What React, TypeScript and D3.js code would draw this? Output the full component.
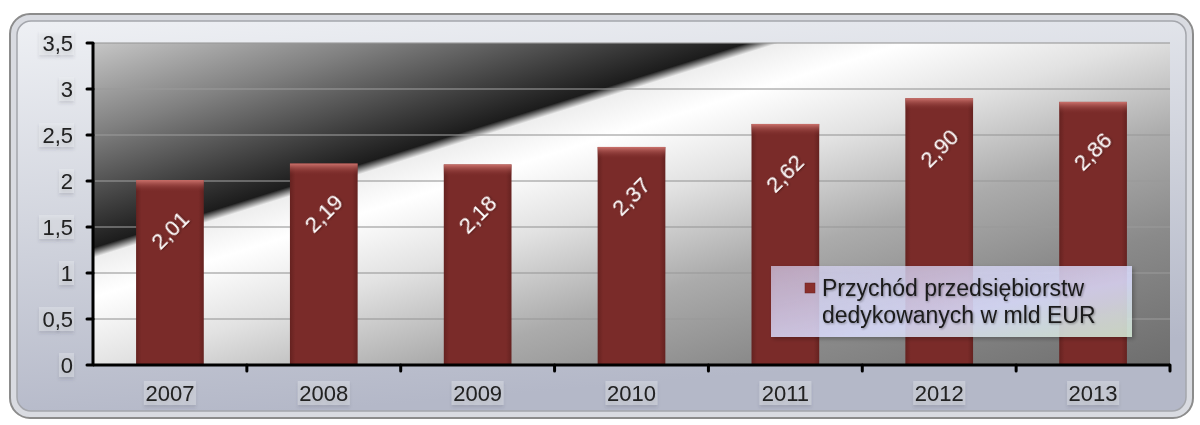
import * as d3 from "d3";
import React from "react";

const years = ["2007", "2008", "2009", "2010", "2011", "2012", "2013"];
const revenue = [2.01, 2.19, 2.18, 2.37, 2.62, 2.9, 2.86];
const valueLabels = ["2,01", "2,19", "2,18", "2,37", "2,62", "2,90", "2,86"];
const yTicks = [0, 0.5, 1, 1.5, 2, 2.5, 3, 3.5];
const yTickLabels = ["0", "0,5", "1", "1,5", "2", "2,5", "3", "3,5"];
const legendLines = ["Przychód przedsiębiorstw", "dedykowanych w mld EUR"];

const W = 1200;
const H = 425;
const plot = { left: 93, right: 1170, top: 43, bottom: 365 };
const font = "'Liberation Sans', Arial, sans-serif";

const App = () => {
  const x = d3.scaleBand().domain(years).range([plot.left, plot.right]).padding(0);
  const y = d3.scaleLinear().domain([0, 3.5]).range([plot.bottom, plot.top]);
  const barW = x.bandwidth() * 0.44;

  // diagonal "metal" background: gradient along the normal of the dark/light edge
  const nx = 0.299;
  const ny = 0.955;
  const ex = plot.left;
  const ey = 252;
  const g0 = { x: ex - 202 * nx, y: ey - 202 * ny };
  const g1 = { x: ex + 427 * nx, y: ey + 427 * ny };

  const boundaries = years.slice(1).map((d) => x(d) as number);

  const legend = { x: 771, y: 266, w: 361, h: 71 };

  return (
    <svg
      width={W}
      height={H}
      style={{ position: "absolute", left: 0, top: 0, fontFamily: font }}
    >
      <defs>
        <linearGradient id="frameGrad" x1="0" y1="0" x2="0.25" y2="1">
          <stop offset="0" stopColor="#eef0f4" />
          <stop offset="0.5" stopColor="#d2d5de" />
          <stop offset="1" stopColor="#b4b8c8" />
        </linearGradient>
        <linearGradient
          id="plotGrad"
          gradientUnits="userSpaceOnUse"
          x1={g0.x}
          y1={g0.y}
          x2={g1.x}
          y2={g1.y}
        >
          <stop offset="0" stopColor="#c8c8c8" />
          <stop offset="0.14" stopColor="#808080" />
          <stop offset="0.315" stopColor="#1c1c1c" />
          <stop offset="0.33" stopColor="#eeeeee" />
          <stop offset="0.39" stopColor="#ffffff" />
          <stop offset="0.5" stopColor="#e2e2e2" />
          <stop offset="0.65" stopColor="#ababab" />
          <stop offset="0.8" stopColor="#8a8a8a" />
          <stop offset="1" stopColor="#6e6e6e" />
        </linearGradient>
        <linearGradient id="barGrad" x1="0" y1="0" x2="1" y2="0">
          <stop offset="0" stopColor="#652220" />
          <stop offset="0.08" stopColor="#7a2b29" />
          <stop offset="0.92" stopColor="#7a2b29" />
          <stop offset="1" stopColor="#652220" />
        </linearGradient>
        <linearGradient id="bevelGrad" x1="0" y1="0" x2="0" y2="1">
          <stop offset="0" stopColor="#d07670" stopOpacity="0.95" />
          <stop offset="1" stopColor="#7a2b29" stopOpacity="0" />
        </linearGradient>
        <linearGradient id="legendGrad" x1="0" y1="0" x2="1" y2="1">
          <stop offset="0" stopColor="#d8d4f4" stopOpacity="0.7" />
          <stop offset="0.6" stopColor="#dcdeff" stopOpacity="0.85" />
          <stop offset="1" stopColor="#d6ecd6" stopOpacity="0.85" />
        </linearGradient>
        <filter id="labelShadow" x="-20%" y="-30%" width="140%" height="170%">
          <feDropShadow dx="0" dy="2.5" stdDeviation="1.5" floodColor="#404050" floodOpacity="0.4" />
        </filter>
        <filter id="textShadow" x="-10%" y="-20%" width="130%" height="150%">
          <feDropShadow dx="1" dy="1" stdDeviation="1" floodColor="#000" floodOpacity="0.35" />
        </filter>
        <filter id="softShadow" x="-10%" y="-10%" width="125%" height="135%">
          <feDropShadow dx="2" dy="2" stdDeviation="2" floodColor="#000" floodOpacity="0.3" />
        </filter>
      </defs>

      {/* outer frame */}
      <rect x={10} y={14} width={1183} height={404} rx={20} fill="#d9dbe1" stroke="#8c8c8c" strokeWidth={2} />
      <rect x={17} y={21} width={1169} height={390} rx={14} fill="url(#frameGrad)" stroke="#a4a6ac" strokeWidth={1.5} />

      {/* plot background */}
      <rect
        x={plot.left}
        y={plot.top}
        width={plot.right - plot.left}
        height={plot.bottom - plot.top}
        fill="url(#plotGrad)"
      />

      {/* gridlines */}
      {yTicks.slice(1).map((t) => (
        <line
          key={t}
          x1={plot.left}
          x2={plot.right}
          y1={y(t)}
          y2={y(t)}
          stroke="#9a9a9a"
          strokeOpacity={0.75}
          strokeWidth={1.5}
        />
      ))}

      {/* bars */}
      {years.map((yr, i) => {
        const cx = (x(yr) as number) + x.bandwidth() / 2;
        const top = y(revenue[i]);
        return (
          <g key={yr}>
            <rect x={cx - barW / 2} y={top} width={barW} height={plot.bottom - top} fill="url(#barGrad)" />
            <rect x={cx - barW / 2} y={top} width={barW} height={12} fill="url(#bevelGrad)" />
            <text
              x={cx}
              y={top + 50}
              transform={`rotate(-45, ${cx}, ${top + 50})`}
              textAnchor="middle"
              dominantBaseline="central"
              fill="#ffffff"
              fontSize={22}
              filter="url(#textShadow)"
            >
              {valueLabels[i]}
            </text>
          </g>
        );
      })}

      {/* legend */}
      <g>
        <rect
          x={legend.x}
          y={legend.y}
          width={legend.w}
          height={legend.h}
          fill="url(#legendGrad)"
          filter="url(#softShadow)"
        />
        <rect x={805} y={283} width={10} height={10} fill="#8a2f2c" stroke="#6a2220" strokeWidth={0.5} />
        {legendLines.map((l, i) => (
          <text key={l} x={822} y={296 + i * 27} fontSize={23} fill="#1a1a1a" filter="url(#textShadow)">
            {l}
          </text>
        ))}
      </g>

      {/* axes */}
      <line x1={plot.left} x2={plot.left} y1={plot.top} y2={plot.bottom} stroke="#000" strokeWidth={3} />
      <line x1={plot.left} x2={plot.right} y1={plot.bottom} y2={plot.bottom} stroke="#000" strokeWidth={3} />
      {yTicks.map((t) => (
        <line
          key={t}
          x1={plot.left - 6}
          x2={plot.left}
          y1={y(t)}
          y2={y(t)}
          stroke="#000"
          strokeWidth={3}
          strokeLinecap="round"
        />
      ))}
      {[...boundaries, plot.right].map((bx) => (
        <line
          key={bx}
          x1={bx}
          x2={bx}
          y1={plot.bottom}
          y2={plot.bottom + 6}
          stroke="#000"
          strokeWidth={3}
          strokeLinecap="round"
        />
      ))}

      {/* y tick labels */}
      {yTicks.map((t, i) => {
        const lbl = yTickLabels[i];
        const w = lbl.length === 1 ? 14 : 34;
        return (
          <g key={t} filter="url(#labelShadow)">
            <rect x={73 - w} y={y(t) - 12} width={w + 1} height={24} fill="#eef0f4" fillOpacity={0.35} />
            <text
              x={73}
              y={y(t)}
              textAnchor="end"
              dominantBaseline="central"
              fontSize={22}
              fill="#222"
            >
              {lbl}
            </text>
          </g>
        );
      })}

      {/* x tick labels */}
      {years.map((yr) => {
        const cx = (x(yr) as number) + x.bandwidth() / 2;
        return (
          <g key={yr} filter="url(#labelShadow)">
            <rect x={cx - 26} y={381} width={52} height={24} fill="#eef0f4" fillOpacity={0.35} />
            <text x={cx} y={401} textAnchor="middle" fontSize={22} fill="#222">
              {yr}
            </text>
          </g>
        );
      })}
    </svg>
  );
};

export default App;
